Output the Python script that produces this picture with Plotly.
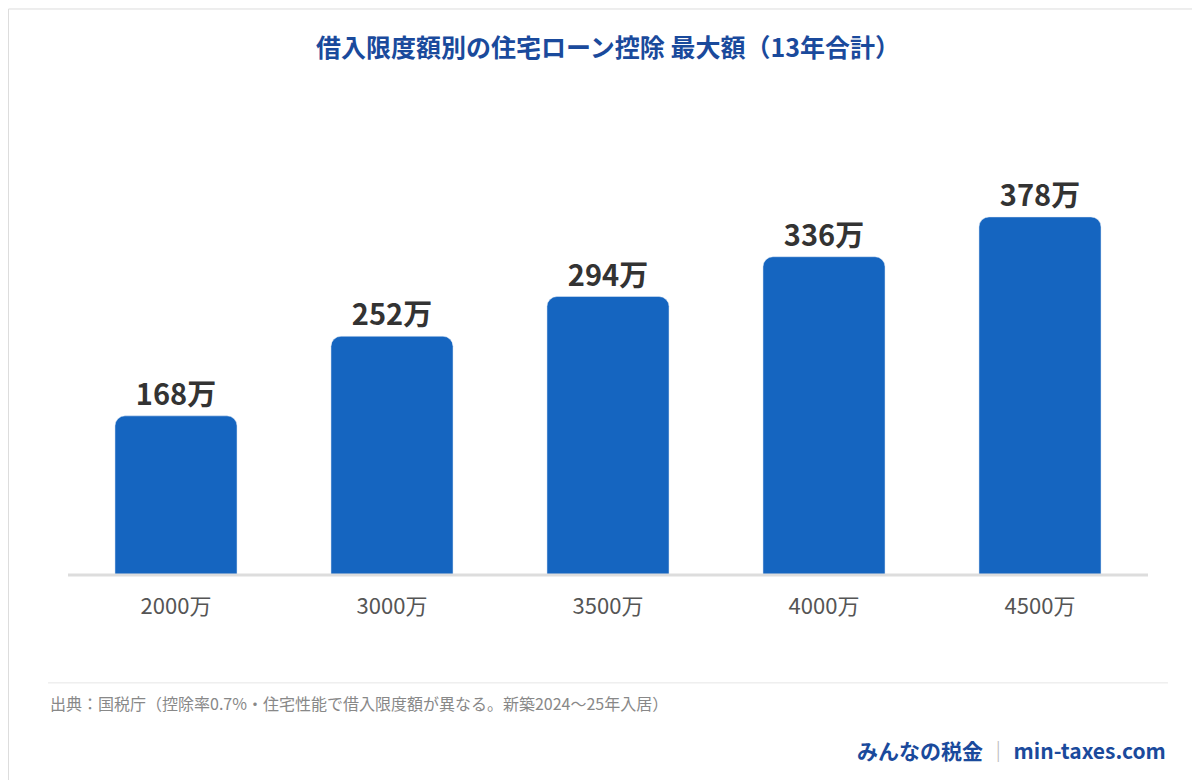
import plotly.graph_objects as go

categories = ["2000万", "3000万", "3500万", "4000万", "4500万"]
values = [168, 252, 294, 336, 378]
labels = ["168万", "252万", "294万", "336万", "378万"]

font = "Noto Sans CJK JP"
blue = "#1565c0"

fig = go.Figure(go.Bar(
    x=categories, y=values, text=labels, textposition="outside",
    marker=dict(color=blue), cliponaxis=False,
    textfont=dict(size=29, color="#333333", family=font, weight="bold"),
))

fig.update_layout(
    width=1200, height=780,
    margin=dict(l=60, r=60, t=100, b=213),
    plot_bgcolor="white", paper_bgcolor="white",
    bargap=0.435, barcornerradius=10, showlegend=False,
    font=dict(family=font),
    xaxis=dict(tickfont=dict(size=22, color="#555555"), ticks="", showline=False,
               ticklabelstandoff=16),
    yaxis=dict(range=[0, 493], visible=False, showgrid=False),
)

# baseline, footer rule, frame
fig.add_shape(type="line", xref="paper", yref="paper", x0=0, x1=1, y0=0, y1=0,
              line=dict(color="#dddddd", width=3))
fig.add_shape(type="line", xref="paper", yref="paper", x0=-0.0185, x1=1.0185,
              y0=-0.231, y1=-0.231, line=dict(color="#e6e6e6", width=1))
fig.add_shape(type="rect", xref="paper", yref="paper", x0=-0.0551, x1=1.0551,
              y0=-0.446, y1=1.212, line=dict(color="#dddddd", width=1))

fig.add_annotation(text="借入限度額別の住宅ローン控除 最大額（13年合計）",
                   xref="paper", yref="paper", x=0.5, y=1.133, yanchor="middle",
                   showarrow=False, font=dict(size=25, color="#1a4a9c", weight="bold"))
fig.add_annotation(text="出典：国税庁（控除率0.7%・住宅性能で借入限度額が異なる。新築2024〜25年入居）",
                   xref="paper", yref="paper", x=-0.0185, y=-0.274, xanchor="left",
                   yanchor="middle", showarrow=False, font=dict(size=16, color="#888888"))
fig.add_annotation(text="みんなの税金 <span style='color:#bbbbbb'>｜</span> min-taxes.com",
                   xref="paper", yref="paper", x=1.0185, y=-0.375, xanchor="right",
                   yanchor="middle", showarrow=False,
                   font=dict(size=21, color="#1a4a9c", weight="bold"))

fig.write_html("out.html")
